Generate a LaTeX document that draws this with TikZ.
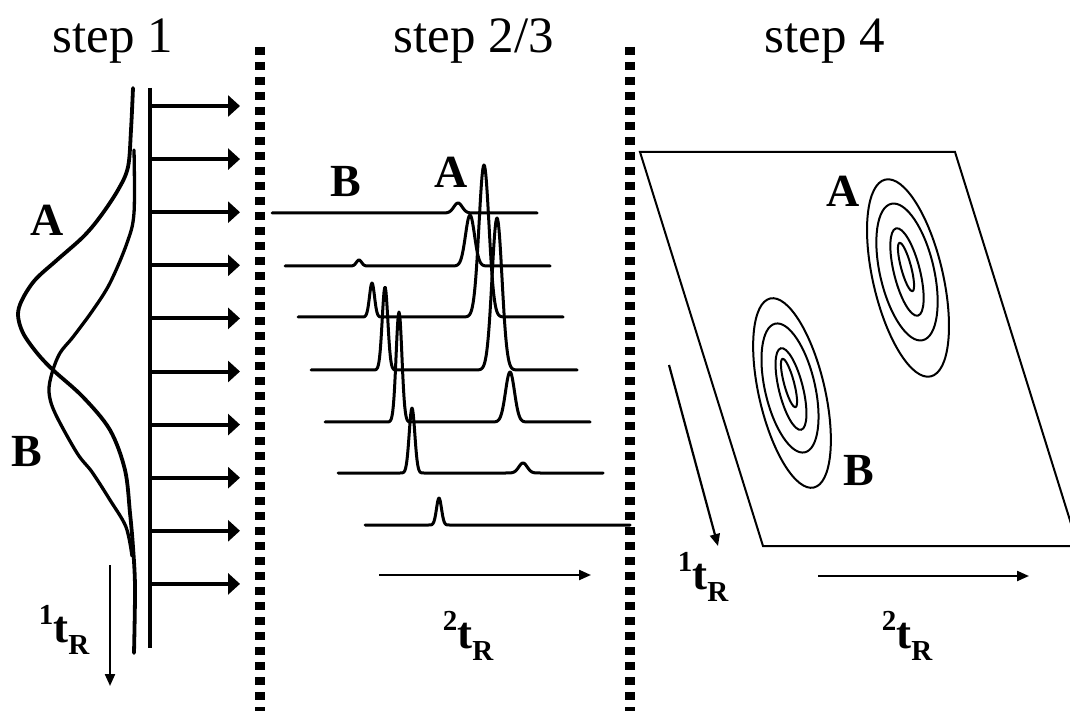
\documentclass[tikz,border=0pt]{standalone}
\usepackage{fontspec}
\setmainfont{Liberation Serif}
\usetikzlibrary{arrows.meta}

% retention-time label: superscript dimension, bold t, subscript R
\newcommand{\rtlabel}[1]{\raisebox{0.40em}{\fontsize{29}{29}\selectfont #1}t\raisebox{-0.27em}{\fontsize{29}{29}\selectfont R}}

\begin{document}
\begin{tikzpicture}[x=1pt,y=-1pt,
  steptitle/.style={font=\fontsize{51}{51}\selectfont, inner sep=0pt, anchor=base},
  peaklabel/.style={font=\bfseries\fontsize{46}{46}\selectfont, inner sep=0pt},
  axislabel/.style={font=\bfseries\fontsize{45}{45}\selectfont, inner sep=0pt},
  divider/.style={line width=10pt, dash pattern=on 8pt off 7pt},
  column/.style={line width=4.5pt},
  fraction/.style={line width=4pt, -{Triangle[length=12pt,width=21pt]}},
  elution/.style={line width=3.8pt, line join=round, line cap=round},
  trace/.style={line width=3pt, line join=round, line cap=round},
  timeaxis/.style={line width=2.2pt, -{Triangle[length=12pt,width=10pt]}},
  plane/.style={line width=2pt, line join=miter},
  contour/.style={line width=2pt}]

\useasboundingbox (0,0) rectangle (1070,711);
\clip (0,0) rectangle (1070,711);

% ---- titles ----
\node[steptitle] (title1) at (113,53) {step 1};
\node[steptitle] (title23) at (474,53) {step 2/3};
\node[steptitle] (title4) at (825,53) {step 4};

% ---- dividers ----
\coordinate (divAtop) at (260,47);
\coordinate (divAbot) at (260,715);
\coordinate (divBtop) at (630,47);
\coordinate (divBbot) at (630,715);
\draw[divider] (divAtop) -- (divAbot);
\draw[divider] (divBtop) -- (divBbot);

% ---- step 1: first-dimension column and modulated fractions ----
\coordinate (coltop) at (150,88);
\coordinate (colbot) at (150,648);
\draw[column] (coltop) -- (colbot);
\foreach \i in {0,...,9} {
  \coordinate (fs\i) at (150,{106+53.1*\i});
  \coordinate (fe\i) at (240,{106+53.1*\i});
  \draw[fraction] (fs\i) -- (fe\i);
}

% elution profile of A
\draw[elution] plot[smooth, tension=0.55] coordinates {
  (133,88) (131,130) (128,167) (118,190) (100,217) (83,237) (57,260)
  (35,280) (22,300) (18,315) (23,333) (37,353) (53,370) (83,397)
  (110,430) (125,470) (130,513) (133,547) (135,587) (134,653)};
% elution profile of B
\draw[elution, line width=3.3pt] plot[smooth, tension=0.55] coordinates {
  (134,150) (134,213) (127,243) (110,283) (93,310) (73,337) (60,353)
  (52,373) (49,392) (55,413) (77,453) (92,472) (110,500) (126,527) (132,556)};

\node[peaklabel] (A1) at (47,220) {A};
\node[peaklabel] (B1) at (27,452) {B};

\coordinate (t1s) at (110,565);
\coordinate (t1e) at (110,686);
\draw[timeaxis] (t1s) -- (t1e);
\node[axislabel] (lab1) at (64,630) {\rtlabel{1}};

% ---- step 2/3: second-dimension chromatograms ----
% y0 / x0 / x1 / centre A / height A / width A / centre B / height B / width B
\foreach \yb/\xa/\xb/\ca/\ha/\sa/\cb/\hb/\sb in {
  213/272/537/458/10/4.2/300/0/1,
  266/285/550/470/51/4.5/359/6/2.6,
  317/298/563/484/152/5/372/34/2.5,
  370/311/577/497/152/5/385/83/2.8,
  422/325/590/510/50/4.5/399/110/2.9,
  473/338/603/523/10/4.2/412/65/2.8,
  525/365/630/600/0/1/439/27/2.5} {
  \draw[trace] plot[domain=\xa:\xb, samples=420]
    (\x,{\yb - \ha*exp(-0.5*min(abs((\x-\ca)/\sa),12)^2)
             - \hb*exp(-0.5*min(abs((\x-\cb)/\sb),12)^2)});
}
\node[peaklabel] (B2) at (346,182) {B};
\node[peaklabel] (A2) at (451,172) {A};

\coordinate (t2s) at (379,575);
\coordinate (t2e) at (591,575);
\draw[timeaxis] (t2s) -- (t2e);
\node[axislabel] (lab2) at (468,636) {\rtlabel{2}};

% ---- step 4: two-dimensional contour plot ----
\coordinate (p1) at (640,152);
\coordinate (p2) at (955,152);
\coordinate (p3) at (1078,546);
\coordinate (p4) at (763,546);
\draw[plane] (p1) -- (p2) -- (p3) -- (p4) -- cycle;

% contours of A
\draw[contour, rotate around={13:(908,278)}] (908,278) ellipse (35 and 101);
\draw[contour, rotate around={13:(907,272)}] (907,272) ellipse (27 and 70);
\draw[contour, rotate around={14:(907,272)}] (907,272) ellipse (13 and 45);
\draw[contour, rotate around={15:(906,267)}] (906,267) ellipse (5 and 25);
% contours of B
\draw[contour, rotate around={13:(792,393)}] (792,393) ellipse (33 and 97);
\draw[contour, rotate around={13:(790,388)}] (790,388) ellipse (25 and 66);
\draw[contour, rotate around={14:(791,389)}] (791,389) ellipse (12 and 42);
\draw[contour, rotate around={15:(789,383)}] (789,383) ellipse (5 and 25);

\node[peaklabel] (A4) at (843,191) {A};
\node[peaklabel] (B4) at (859,471) {B};

\coordinate (t3s) at (669,365);
\coordinate (t3e) at (718,546);
\draw[timeaxis] (t3s) -- (t3e);
\node[axislabel] (lab3) at (703,577) {\rtlabel{1}};

\coordinate (t4s) at (818,576);
\coordinate (t4e) at (1029,576);
\draw[timeaxis] (t4s) -- (t4e);
\node[axislabel] (lab4) at (907,636) {\rtlabel{2}};

\end{tikzpicture}
\end{document}
